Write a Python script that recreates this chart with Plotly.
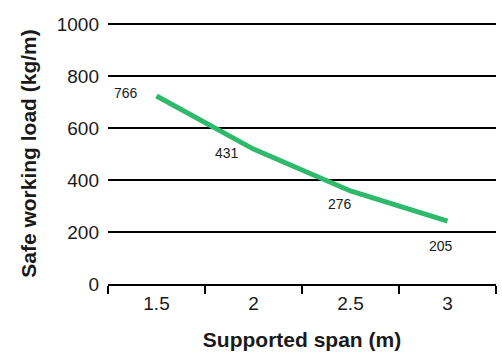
import plotly.graph_objects as go

spans = ["1.5", "2", "2.5", "3"]
load_values = [723, 519, 358, 242]
label_texts = ["766", "431", "276", "205"]

label_xshift = [-31, -27, -11, -7]
label_yshift = [3, -4, -13, -25]

fig = go.Figure()
fig.add_trace(go.Scatter(
    x=spans, y=load_values, mode="lines",
    line=dict(color="#2fb96b", width=5),
    hoverinfo="skip", showlegend=False,
))

for i, (y, t, dx, dy) in enumerate(zip(load_values, label_texts, label_xshift, label_yshift)):
    fig.add_annotation(x=i, y=y, xref="x", yref="y", text=t, showarrow=False,
                       xshift=dx, yshift=dy,
                       font=dict(family="Liberation Sans, Arial", size=14, color="#1a1a1a"))

fig.update_layout(
    width=502, height=354,
    margin=dict(l=108, r=6, t=23, b=70),
    paper_bgcolor="white", plot_bgcolor="white",
    font=dict(family="Liberation Sans, Arial", color="#1a1a1a"),
    xaxis=dict(
        type="category", range=[-0.5, 3.5], tickson="boundaries", ticks="outside", ticklen=8,
        tickwidth=2, tickcolor="black", showline=True, linecolor="black",
        linewidth=2, showgrid=False, tickfont=dict(size=19), ticklabelstandoff=1,
        automargin=False,
        title=dict(text="<b>Supported span (m)</b>", font=dict(size=21), standoff=20),
    ),
    yaxis=dict(
        range=[0, 1004], tickvals=[0, 200, 400, 600, 800, 1000],
        showgrid=True, gridcolor="black", gridwidth=2, zeroline=False,
        showline=False, ticks="", tickfont=dict(size=19), ticklabelstandoff=8,
        automargin=False,
        title=dict(text="<b>Safe working load (kg/m)</b>", font=dict(size=21), standoff=14),
    ),
)

fig.write_html("out.html", config={"displayModeBar": False},
               post_script="document.body.style.margin='0';")
